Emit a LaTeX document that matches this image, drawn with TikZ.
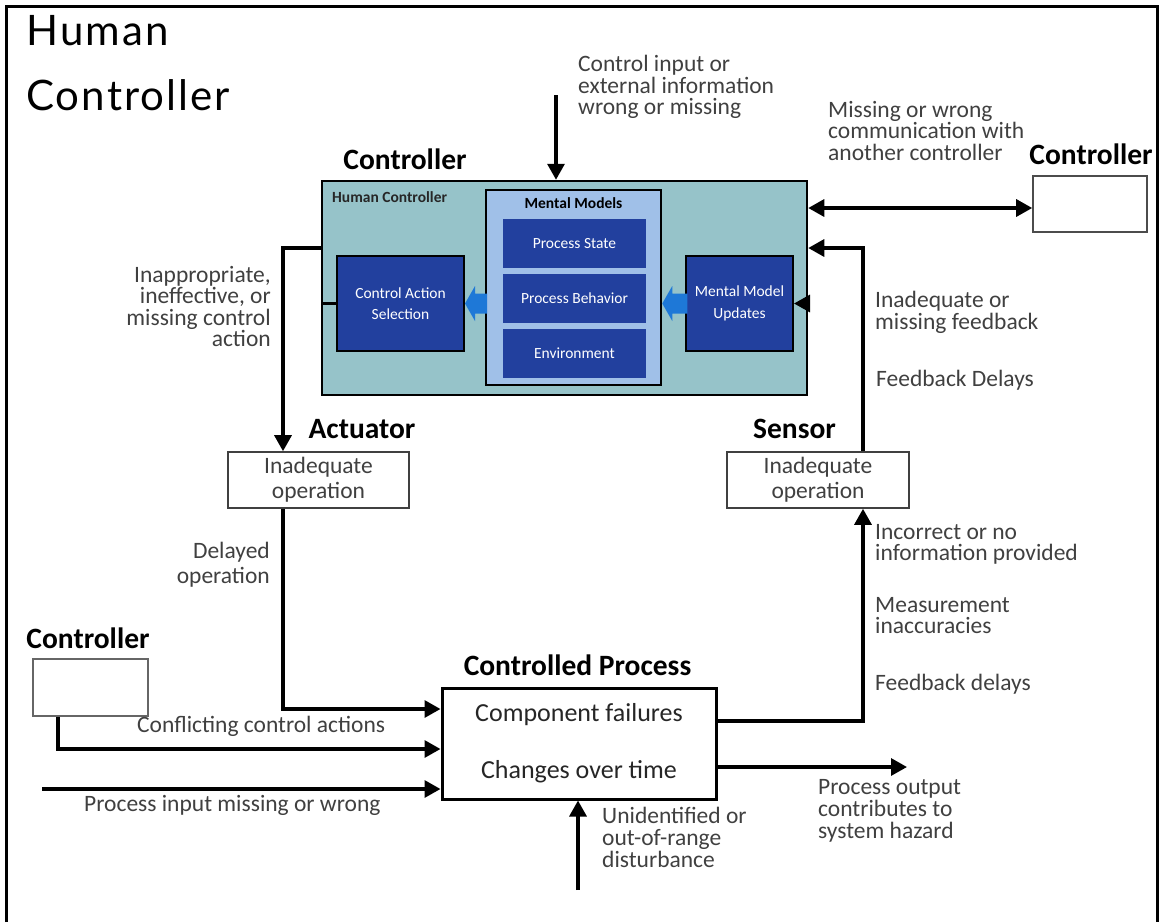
\documentclass[tikz,border=0pt]{standalone}
\usepackage{fontspec}
\setmainfont{Carlito}
\newfontfamily\titlefont{Lato}[LetterSpace=5]
\usetikzlibrary{arrows.meta,calc}
\definecolor{hcteal}{RGB}{150,195,201}
\definecolor{mmblue}{RGB}{160,192,232}
\definecolor{darkblue}{RGB}{34,64,158}
\definecolor{flowblue}{RGB}{30,120,215}
\definecolor{txtgray}{RGB}{64,64,64}
\begin{document}
\begin{tikzpicture}[x=1pt,y=-1pt,
  conn/.style={line width=3.2pt},
  arr/.style={conn,-{Triangle[length=16pt,width=17pt]}},
  dblarr/.style={conn,{Triangle[length=16pt,width=17pt]}-{Triangle[length=16pt,width=17pt]}},
  lbl/.style={font=\fontsize{23.5}{21.5}\selectfont, text=txtgray, inner sep=0pt},
  head/.style={font=\bfseries\fontsize{29.5}{30}\selectfont, inner sep=0pt},
  plainbox/.style={draw=black!75, line width=1.6pt, fill=white, inner sep=0pt,
    align=center, font=\fontsize{23.5}{25}\selectfont, text=txtgray},
  darkbox/.style={fill=darkblue, text=white, inner sep=0pt, align=center,
    font=\fontsize{15.5}{21.5}\selectfont},
  blockarr/.style={fill=flowblue},
]
\useasboundingbox (0,0) rectangle (1160,922);

% outer frame, open at the bottom
\draw[line width=3pt] (6.5,922) -- (6.5,6.5) -- (1157.5,6.5) -- (1157.5,922);

% title
\node[anchor=north west, inner sep=0pt, align=left,
      font=\titlefont\fontsize{42}{65}\selectfont] (title) at (26,15) {Human\\Controller};

% human controller block
\node[draw, line width=2.5pt, fill=hcteal, minimum width=485pt, minimum height=214pt,
      inner sep=0pt] (hc) at (564.5,288) {};
\node[anchor=base west, inner sep=0pt, font=\bfseries\fontsize{15.5}{16}\selectfont,
      text=black!85] (hclbl) at (332,202) {Human Controller};
\node[draw, line width=2.5pt, fill=mmblue, minimum width=175pt, minimum height=195pt,
      inner sep=0pt] (mm) at (573.5,287.5) {};
\node[anchor=base, inner sep=0pt, font=\bfseries\fontsize{15.5}{16}\selectfont]
      (mmlbl) at (573.5,208) {Mental Models};
\node[darkbox, minimum width=143pt, minimum height=49pt] (ps) at (574.5,243.5) {Process State};
\node[darkbox, minimum width=143pt, minimum height=49pt] (pb) at (574.5,298.5) {Process Behavior};
\node[darkbox, minimum width=143pt, minimum height=49pt] (env) at (574.5,353.5) {Environment};
\node[darkbox, draw=black, line width=2pt, minimum width=127pt, minimum height=95pt]
      (cas) at (400.5,303.5) {Control Action\\Selection};
\node[darkbox, draw=black, line width=2pt, minimum width=107pt, minimum height=95pt]
      (mmu) at (739.5,303.5) {Mental Model\\Updates};

% block arrows inside the human controller
\fill[blockarr] (cas.east) -- ++(10,-17.5) -- ++(0,7.5) -- ++(12,0) -- ++(0,20)
      -- ++(-12,0) -- ++(0,7.5) -- cycle;
\fill[blockarr] (mmu.west -| mm.east) -- ++(10,-17.5) -- ++(0,7.5) -- ++(15,0) -- ++(0,20)
      -- ++(-15,0) -- ++(0,7.5) -- cycle;

\node[head, anchor=base] (hchead) at (405,169) {Controller};

% other blocks
\node[draw=black!70, line width=1.6pt, minimum width=114pt, minimum height=56pt,
      inner sep=0pt] (rc) at (1090,204) {};
\node[head, anchor=base] (rchead) at (1091,164) {Controller};
\node[plainbox, minimum width=181pt, minimum height=56pt] (act) at (318.5,480)
      {Inadequate\\operation};
\node[head, anchor=base] (acthead) at (362,438) {Actuator};
\node[plainbox, minimum width=182pt, minimum height=56pt] (sen) at (818,480)
      {Inadequate\\operation};
\node[head, anchor=base] (senhead) at (794.5,438) {Sensor};
\node[draw=black!60, line width=1.6pt, minimum width=115pt, minimum height=57pt,
      inner sep=0pt] (lc) at (90.5,687.5) {};
\node[head, anchor=base] (lchead) at (88,648) {Controller};
\node[draw, line width=3pt, minimum width=274pt, minimum height=111pt, inner sep=0pt,
      align=center, font=\fontsize{26}{57}\selectfont, text=black!85]
      (cp) at (579,743.5) {Component failures\\Changes over time};
\node[head, anchor=base] (cphead) at (577.5,675) {Controlled Process};

% free ends of connectors
\coordinate (cin) at (556,95);
\coordinate (pin) at (42,789);
\coordinate (pout) at (907,767);
\coordinate (dist) at (578,890);

% connectors
\draw[arr] (cin) -- (cin |- hc.north);
\draw[dblarr] ([yshift=-4pt]rc.west -| hc.east) -- ([yshift=-4pt]rc.west);
\draw[arr] ([xshift=45pt]sen.north) |- ([yshift=40pt]hc.east);
\draw[arr] (mmu.east -| hc.east) -- (mmu.east);
\draw[conn] (cas.west) -- (cas.west -| hc.west);
\draw[arr] ([yshift=40pt]hc.west) -| ([xshift=-35.5pt]act.north);
\draw[arr] ([xshift=-35.5pt]act.south) |- ([yshift=34.5pt]cp.west);
\draw[arr] ([xshift=-32.5pt]lc.south) |- ([yshift=-5.5pt]cp.west);
\draw[arr] (pin) -- (pin -| cp.west);
\draw[arr] ([yshift=22.5pt]cp.east) -| ([xshift=45pt]sen.south);
\draw[arr] (pout -| cp.east) -- (pout);
\draw[arr] (dist) -- (dist |- cp.south);

% labels
\node[lbl, anchor=north west, align=left] (l1) at (578,55)
  {Control input or\\external information\\wrong or missing};
\node[lbl, anchor=north west, align=left] (l2) at (828,101)
  {Missing or wrong\\communication with\\another controller};
\node[lbl, anchor=north west, align=left] (l3) at (875,291)
  {Inadequate or\\missing feedback};
\node[lbl, anchor=north west, align=left] (l4) at (876,370) {Feedback Delays};
\node[lbl, anchor=north east, align=right] (l5) at (271,266)
  {Inappropriate,\\ineffective, or\\missing control\\action};
\node[lbl, anchor=north east, align=right, font=\fontsize{23.5}{25}\selectfont] (l6)
  at (270,542) {Delayed\\operation};
\node[lbl, anchor=north west, align=left] (l7) at (875,524)
  {Incorrect or no\\information provided};
\node[lbl, anchor=north west, align=left] (l8) at (875,597)
  {Measurement\\inaccuracies};
\node[lbl, anchor=north west, align=left] (l9) at (875,674) {Feedback delays};
\node[lbl, anchor=base west] (l10) at (137,732) {Conflicting control actions};
\node[lbl, anchor=base west] (l11) at (84,811) {Process input missing or wrong};
\node[lbl, anchor=north west, align=left, font=\fontsize{23.5}{22}\selectfont] (l12)
  at (818,779) {Process output\\contributes to\\system hazard};
\node[lbl, anchor=north west, align=left, font=\fontsize{23.5}{22}\selectfont] (l13)
  at (602,807) {Unidentified or\\out-of-range\\disturbance};
\end{tikzpicture}
\end{document}
